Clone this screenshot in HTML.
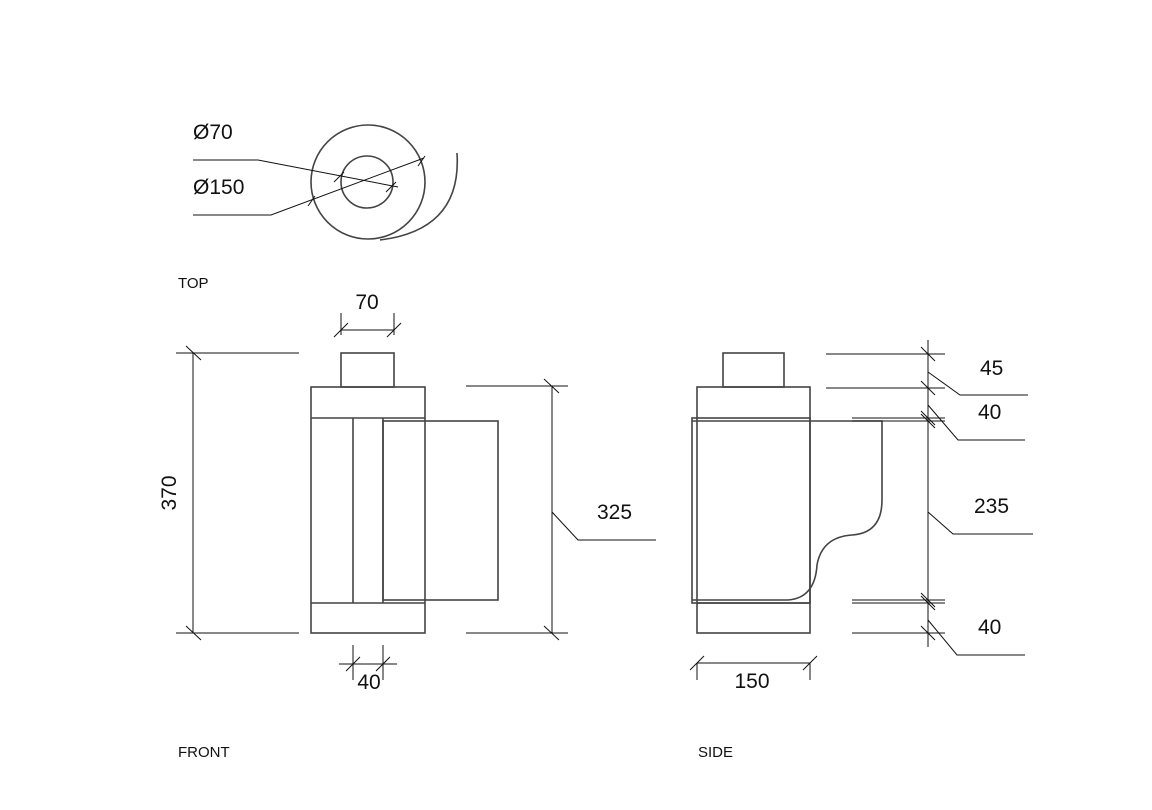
<!DOCTYPE html>
<html><head><meta charset="utf-8"><style>
html,body{margin:0;padding:0;background:#fff}
svg{display:block}
text{font-family:"Liberation Sans",sans-serif;fill:#111}
</style></head><body>
<svg width="1152" height="810" viewBox="0 0 1152 810" xmlns="http://www.w3.org/2000/svg">
<g fill="none" stroke="#444" stroke-width="1.6">
<!-- TOP view -->
<circle cx="368" cy="182" r="57"/>
<circle cx="367" cy="182" r="26"/>
<path d="M457 153 Q462 230 380 240"/>
</g>
<g fill="none" stroke="#111" stroke-width="1">
<polyline points="193,160 258,160 398,187"/>
<polyline points="193,215 271,215 424,158"/>
<line x1="334" y1="182" x2="344" y2="172"/><line x1="386" y1="192" x2="396" y2="182"/>
<line x1="308" y1="206" x2="315" y2="196"/><line x1="418" y1="166" x2="425" y2="156"/>
</g>
<text x="193" y="139" font-size="21">Ø70</text>
<text x="193" y="194" font-size="21">Ø150</text>
<text x="178" y="288" font-size="15" fill="#333">TOP</text>

<!-- FRONT view -->
<g fill="none" stroke="#444" stroke-width="1.6">
<rect x="341" y="353" width="53" height="34"/>
<rect x="311" y="387" width="114" height="246"/>
<line x1="311" y1="418" x2="425" y2="418"/>
<line x1="311" y1="603" x2="425" y2="603"/>
<line x1="353" y1="418" x2="353" y2="603"/>
<line x1="383" y1="418" x2="383" y2="603"/>
<rect x="383" y="421" width="115" height="179"/>
</g>
<g fill="none" stroke="#111" stroke-width="1">
<line x1="176" y1="353" x2="299" y2="353"/>
<line x1="176" y1="633" x2="299" y2="633"/>
<line x1="193" y1="353" x2="193" y2="633"/>
<line x1="186" y1="346" x2="201" y2="360"/><line x1="186" y1="626" x2="201" y2="640"/>
<line x1="466" y1="386" x2="568" y2="386"/>
<line x1="466" y1="633" x2="568" y2="633"/>
<line x1="552" y1="386" x2="552" y2="633"/>
<line x1="544" y1="379" x2="559" y2="393"/><line x1="544" y1="626" x2="559" y2="640"/>
<polyline points="552,512 578,540 656,540"/>
<line x1="341" y1="313" x2="341" y2="335"/><line x1="394" y1="313" x2="394" y2="335"/>
<line x1="341" y1="330" x2="394" y2="330"/>
<line x1="334" y1="337" x2="348" y2="323"/><line x1="387" y1="337" x2="401" y2="323"/>
<line x1="353" y1="645" x2="353" y2="680"/><line x1="383" y1="645" x2="383" y2="680"/>
<line x1="339" y1="664" x2="397" y2="664"/>
<line x1="346" y1="671" x2="360" y2="657"/><line x1="376" y1="671" x2="390" y2="657"/>
</g>
<text x="367" y="309" font-size="21" text-anchor="middle">70</text>
<text x="369" y="689" font-size="21" text-anchor="middle">40</text>
<text x="597" y="519" font-size="21">325</text>
<text transform="translate(176,493) rotate(-90)" font-size="21" text-anchor="middle">370</text>
<text x="178" y="757" font-size="15" fill="#333">FRONT</text>

<!-- SIDE view -->
<g fill="none" stroke="#444" stroke-width="1.6">
<rect x="723" y="353" width="61" height="34"/>
<rect x="697" y="387" width="113" height="246"/>
<line x1="697" y1="603" x2="810" y2="603"/>
<rect x="692" y="418" width="118" height="185"/>
<path d="M692 421 L882 421 L882 500 Q882 533 852 535 Q822 537 817 565 Q815 598 788 600 L692 600"/>
</g>
<g fill="none" stroke="#111" stroke-width="1">
<line x1="928" y1="340" x2="928" y2="647"/>
<line x1="826" y1="354" x2="945" y2="354"/>
<line x1="826" y1="388" x2="945" y2="388"/>
<line x1="852" y1="418" x2="945" y2="418"/><line x1="852" y1="421" x2="945" y2="421"/>
<line x1="852" y1="600" x2="945" y2="600"/><line x1="852" y1="603" x2="945" y2="603"/>
<line x1="852" y1="633" x2="945" y2="633"/>
<line x1="921" y1="347" x2="935" y2="361"/><line x1="921" y1="381" x2="935" y2="395"/>
<line x1="921" y1="411" x2="935" y2="425"/><line x1="921" y1="414" x2="935" y2="428"/>
<line x1="921" y1="593" x2="935" y2="607"/><line x1="921" y1="596" x2="935" y2="610"/>
<line x1="921" y1="626" x2="935" y2="640"/>
<polyline points="928,372 960,395 1028,395"/>
<polyline points="928,405 958,440 1025,440"/>
<polyline points="928,512 953,534 1033,534"/>
<polyline points="928,620 957,655 1025,655"/>
<line x1="697" y1="663" x2="810" y2="663"/>
<line x1="697" y1="663" x2="697" y2="680"/><line x1="810" y1="663" x2="810" y2="680"/>
<line x1="690" y1="670" x2="704" y2="656"/><line x1="803" y1="670" x2="817" y2="656"/>
</g>
<text x="980" y="375" font-size="21">45</text>
<text x="978" y="419" font-size="21">40</text>
<text x="974" y="513" font-size="21">235</text>
<text x="978" y="634" font-size="21">40</text>
<text x="752" y="688" font-size="21" text-anchor="middle">150</text>
<text x="698" y="757" font-size="15" fill="#333">SIDE</text>
</svg>
</body></html>
